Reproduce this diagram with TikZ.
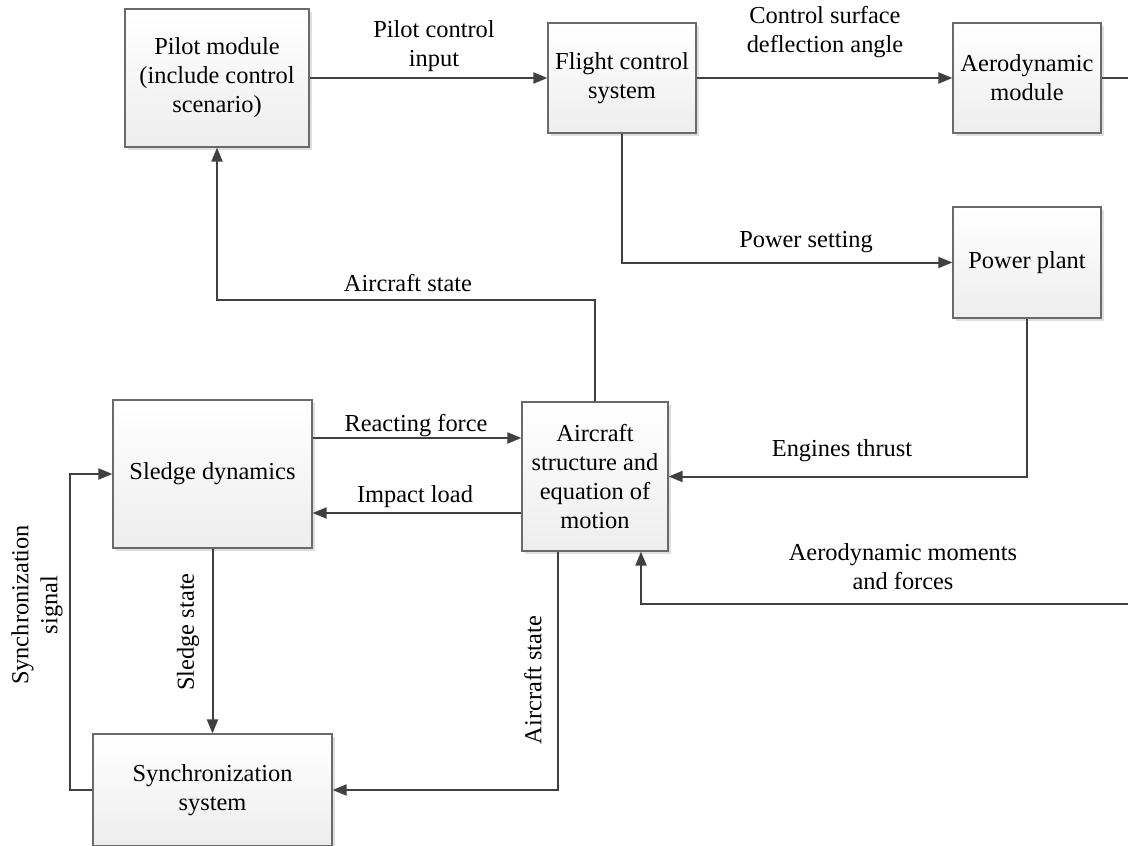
\documentclass[tikz,border=0pt]{standalone}
\usepackage{fontspec}
\setmainfont{Liberation Serif}
\usetikzlibrary{arrows.meta,shadows}
\definecolor{linec}{HTML}{404040}
\definecolor{boxborder}{HTML}{6A6A6A}
\tikzset{
  blk/.style={draw=boxborder, line width=0.6pt, top color=white, bottom color=black!7,
    drop shadow={shadow xshift=1.3pt, shadow yshift=-1.3pt, opacity=0.25, fill=black!50},
    align=center, inner sep=2pt},
  conn/.style={draw=linec, line width=1pt, -{Triangle[length=7pt,width=5.5pt]}},
  plain/.style={draw=linec, line width=1pt},
  lbl/.style={align=center, inner sep=0pt}
}
\begin{document}
\begin{tikzpicture}[x=0.5pt,y=-0.5pt, font=\fontsize{12.2}{14.5}\selectfont]
\useasboundingbox (0,0) rectangle (1128,845);
\clip (0,0) rectangle (1128,845);
% boxes
\node[blk, minimum width=92pt, minimum height=69pt] (pilot) at (217,78) {Pilot module\\(include control\\scenario)};
\node[blk, minimum width=74pt, minimum height=55pt] (fcs) at (622,78) {Flight control\\system};
\node[blk, minimum width=74pt, minimum height=55pt] (aero) at (1027,78) {Aerodynamic\\module};
\node[blk, minimum width=74pt, minimum height=55.5pt] (power) at (1027,262.5) {Power plant};
\node[blk, minimum width=73pt, minimum height=74.5pt] (aircraft) at (595,476.5) {Aircraft\\structure and\\equation of\\motion};
\node[blk, minimum width=99.5pt, minimum height=74pt] (sledge) at (212.5,474) {Sledge dynamics};
\node[blk, minimum width=119.5pt, minimum height=56pt] (sync) at (212.5,790) {Synchronization\\system};
\coordinate (aeroout) at (1128,78);
\coordinate (aeroin) at (1128,604);
% connectors
\draw[conn] (pilot.east) -- (fcs.west);
\draw[conn] (fcs.east) -- (aero.west);
\draw[plain] (aero.east) -- (aeroout);
\draw[conn] (fcs.south) |- (power.west);
\draw[conn] (power.south) |- (aircraft.east);
\draw[conn] (aeroin) -| (641,0 |- aircraft.south);
\draw[conn] (aircraft.north) -- (aircraft.north |- 0,300) -| (pilot.south);
\draw[conn] (sledge.east |- 0,438) -- (aircraft.west |- 0,438);
\draw[conn] (aircraft.west |- 0,513) -- (sledge.east |- 0,513);
\draw[conn] (sledge.south) -- (sync.north);
\draw[conn] (558,0 |- aircraft.south) |- (sync.east);
\draw[conn] (sync.west) -- (70,0 |- sync.west) |- (sledge.west);
% labels
\node[lbl] (l1) at (434,46) {Pilot control\\input};
\node[lbl] (l2) at (825,32) {Control surface\\deflection angle};
\node[lbl] (l3) at (806,242) {Power setting};
\node[lbl] (l4) at (408,283) {Aircraft state};
\node[lbl] (l5) at (416,426) {Reacting force};
\node[lbl] (l6) at (415,497) {Impact load};
\node[lbl] (l7) at (842,451) {Engines thrust};
\node[lbl] (l8) at (903,567) {Aerodynamic moments\\and forces};
\node[lbl, rotate=90] (l9) at (188,632) {Sledge state};
\node[lbl, rotate=90] (l10) at (533,680) {Aircraft state};
\node[lbl, rotate=90] (l11) at (37,605) {Synchronization\\signal};
\end{tikzpicture}
\end{document}
